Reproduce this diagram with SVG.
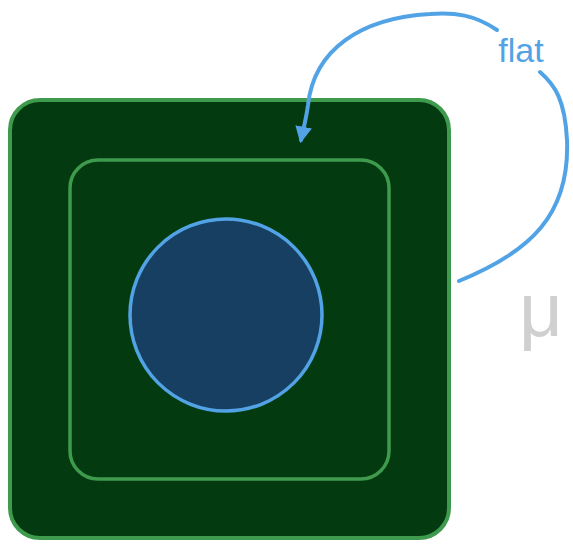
<svg xmlns="http://www.w3.org/2000/svg" width="573" height="549" viewBox="0 0 573 549">
<style>
.box{fill:#043a10;stroke:#3e9a4c;}
.conn{fill:none;stroke:#52a3e6;stroke-width:4;stroke-linecap:round;}
.lbl{font-family:"Liberation Sans",Arial,sans-serif;}
</style>
<defs>
<marker id="ah" viewBox="0 0 10 10" refX="8" refY="5" markerWidth="4.2" markerHeight="4.2" orient="auto" markerUnits="strokeWidth">
<path d="M0,0 L10,5 L0,10 z" fill="#52a3e6"/>
</marker>
</defs>
<g id="outer"><rect class="box" x="10" y="100" width="439" height="438" rx="30" stroke-width="4"/></g>
<g id="inner"><rect class="box" x="70" y="160" width="319" height="319" rx="28" stroke-width="3.5"/></g>
<g id="core"><circle cx="226" cy="315" r="96" fill="#173f62" stroke="#52a3e6" stroke-width="3.5"/></g>
<g id="connectors">
<path class="conn" d="M459,281 C530,252 570,215 567,140 C565,100 555,85 540,72"/>
<path class="conn" d="M497,30 C475,15 455,12 430,14 C360,18 314,50 308,105 C306,120 303,130 301,140" marker-end="url(#ah)"/>
</g>
<g id="label-flat"><text class="lbl" x="521" y="62" font-size="34" fill="#52a3e6" text-anchor="middle">flat</text></g>
<g id="label-mu"><text class="lbl" x="541" y="336" font-size="76" fill="#d0d0d0" text-anchor="middle">μ</text></g>
</svg>
